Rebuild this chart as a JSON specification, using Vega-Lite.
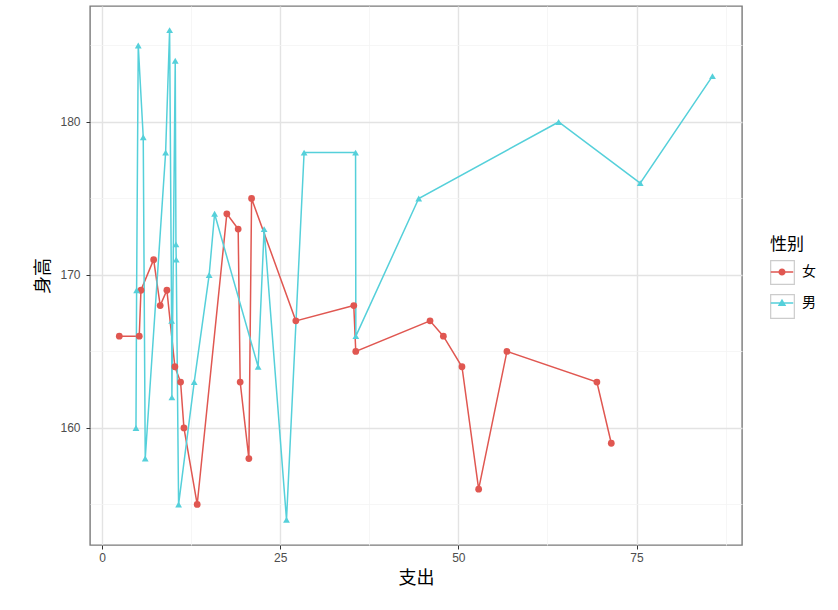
{
  "$schema": "https://vega.github.io/schema/vega-lite/v6.json",
  "width": 652,
  "height": 539,
  "autosize": {"type": "none"},
  "padding": {"left": 90, "top": 6, "right": 96, "bottom": 65},
  "background": "white",
  "data": {
    "values": [
      {"性别": "女", "支出": 2.43, "身高": 166},
      {"性别": "女", "支出": 5.23, "身高": 166},
      {"性别": "女", "支出": 5.47, "身高": 169},
      {"性别": "女", "支出": 7.25, "身高": 171},
      {"性别": "女", "支出": 8.17, "身高": 168},
      {"性别": "女", "支出": 9.11, "身高": 169},
      {"性别": "女", "支出": 10.23, "身高": 164},
      {"性别": "女", "支出": 11.03, "身高": 163},
      {"性别": "女", "支出": 11.5, "身高": 160},
      {"性别": "女", "支出": 13.36, "身高": 155},
      {"性别": "女", "支出": 17.52, "身高": 174},
      {"性别": "女", "支出": 19.11, "身高": 173},
      {"性别": "女", "支出": 19.39, "身高": 163},
      {"性别": "女", "支出": 20.61, "身高": 158},
      {"性别": "女", "支出": 20.99, "身高": 175},
      {"性别": "女", "支出": 27.2, "身高": 167},
      {"性别": "女", "支出": 35.33, "身高": 168},
      {"性别": "女", "支出": 35.61, "身高": 165},
      {"性别": "女", "支出": 46.03, "身高": 167},
      {"性别": "女", "支出": 47.9, "身高": 166},
      {"性别": "女", "支出": 50.51, "身高": 164},
      {"性别": "女", "支出": 52.85, "身高": 156},
      {"性别": "女", "支出": 56.82, "身高": 165},
      {"性别": "女", "支出": 69.44, "身高": 163},
      {"性别": "女", "支出": 71.46, "身高": 159},
      {"性别": "男", "支出": 4.77, "身高": 160},
      {"性别": "男", "支出": 4.86, "身高": 169},
      {"性别": "男", "支出": 5.09, "身高": 185},
      {"性别": "男", "支出": 5.79, "身高": 179},
      {"性别": "男", "支出": 6.07, "身高": 158},
      {"性别": "男", "支出": 8.93, "身高": 178},
      {"性别": "男", "支出": 9.49, "身高": 186},
      {"性别": "男", "支出": 9.77, "身高": 167},
      {"性别": "男", "支出": 9.81, "身高": 162},
      {"性别": "男", "支出": 10.28, "身高": 184},
      {"性别": "男", "支出": 10.38, "身高": 172},
      {"性别": "男", "支出": 10.42, "身高": 171},
      {"性别": "男", "支出": 10.75, "身高": 155},
      {"性别": "男", "支出": 12.94, "身高": 163},
      {"性别": "男", "支出": 15.04, "身高": 170},
      {"性别": "男", "支出": 15.8, "身高": 174},
      {"性别": "男", "支出": 21.91, "身高": 164},
      {"性别": "男", "支出": 22.75, "身高": 173},
      {"性别": "男", "支出": 25.89, "身高": 154},
      {"性别": "男", "支出": 28.36, "身高": 178},
      {"性别": "男", "支出": 35.58, "身高": 178},
      {"性别": "男", "支出": 35.62, "身高": 166},
      {"性别": "男", "支出": 44.44, "身高": 175},
      {"性别": "男", "支出": 64.07, "身高": 180},
      {"性别": "男", "支出": 75.52, "身高": 176},
      {"性别": "男", "支出": 85.66, "身高": 183}
    ]
  },
  "encoding": {
    "x": {
      "field": "支出",
      "type": "quantitative",
      "scale": {"domain": [-1.68, 89.8], "nice": false, "zero": false},
      "axis": {
        "title": "支出",
        "values": [0, 12.5, 25, 37.5, 50, 62.5, 75, 87.5],
        "labelExpr": "datum.value % 25 === 0 ? datum.label : ''",
        "labelPadding": 3,
        "titlePadding": 6,
        "gridColor": {"condition": {"test": "datum.value % 25 !== 0", "value": "#F4F4F4"}, "value": "#E3E3E3"},
        "gridWidth": {"condition": {"test": "datum.value % 25 !== 0", "value": 0.8}, "value": 1.4},
        "tickOpacity": {"condition": {"test": "datum.value % 25 !== 0", "value": 0}, "value": 1}
      }
    },
    "y": {
      "field": "身高",
      "type": "quantitative",
      "scale": {"domain": [152.35, 187.58], "nice": false, "zero": false},
      "axis": {
        "title": "身高",
        "values": [155, 160, 165, 170, 175, 180, 185],
        "labelExpr": "datum.value % 10 === 0 ? datum.label : ''",
        "labelPadding": 6,
        "titlePadding": 7,
        "gridColor": {"condition": {"test": "datum.value % 10 !== 0", "value": "#F4F4F4"}, "value": "#E3E3E3"},
        "gridWidth": {"condition": {"test": "datum.value % 10 !== 0", "value": 0.8}, "value": 1.4},
        "tickOpacity": {"condition": {"test": "datum.value % 10 !== 0", "value": 0}, "value": 1}
      }
    }
  },
  "layer": [
    {
      "mark": {"type": "line", "strokeWidth": 1.5},
      "encoding": {
        "color": {
          "field": "性别",
          "type": "nominal",
          "scale": {"domain": ["女", "男"], "range": ["#E05751", "#55D0DA"]},
          "legend": null
        }
      }
    },
    {
      "mark": {"type": "point", "filled": true, "opacity": 1, "size": 46},
      "encoding": {
        "color": {
          "field": "性别",
          "type": "nominal",
          "scale": {"domain": ["女", "男"], "range": ["#E05751", "#55D0DA"]},
          "legend": null
        },
        "shape": {
          "field": "性别",
          "type": "nominal",
          "scale": {"domain": ["女", "男"], "range": ["circle", "triangle-up"]},
          "legend": null
        }
      }
    },
    {
      "transform": [{"filter": "false"}],
      "mark": {"type": "point", "filled": false, "opacity": 1, "color": "#CCCCCC", "strokeWidth": 1.2},
      "encoding": {
        "shape": {
          "field": "性别",
          "type": "nominal",
          "scale": {"domain": ["女", "男"], "range": ["square", "square"]},
          "legend": {
            "orient": "none",
            "legendX": 680,
            "legendY": 231,
            "zindex": 1,
            "title": "性别",
            "titleOpacity": 0,
            "titleFont": "Noto Sans CJK SC",
            "titleFontSize": 17,
            "titleFontWeight": "normal",
            "titlePadding": 6,
            "labelExpr": "''",
            "labelFont": "Noto Sans CJK SC",
            "labelFontSize": 14,
            "labelOffset": 8,
            "symbolSize": 560,
            "symbolType": "square",
            "symbolFillColor": "transparent",
            "symbolStrokeColor": "#CCCCCC",
            "symbolStrokeWidth": 1.2,
            "rowPadding": 5
          }
        }
      }
    },
    {
      "transform": [{"filter": "false"}],
      "mark": {"type": "point", "filled": true, "opacity": 1, "size": 560},
      "encoding": {
        "shape": {
          "field": "性别",
          "type": "nominal",
          "scale": {
            "domain": ["女", "男"],
            "range": [
              "M-1.05,-1.05M1.05,1.05M-0.95,-0.07L0.95,-0.07L0.95,0.07L-0.95,0.07Z M-0.3,0A0.3,0.3,0,1,1,0.3,0A0.3,0.3,0,1,1,-0.3,0Z",
              "M-1.05,-1.05M1.05,1.05M-0.95,-0.07L0.95,-0.07L0.95,0.07L-0.95,0.07Z M0,-0.36L0.36,0.26L-0.36,0.26Z"
            ]
          },
          "legend": {
            "orient": "none",
            "legendX": 680,
            "legendY": 231,
            "zindex": 2,
            "title": "性别",
            "titleColor": "#000000",
            "titleFont": "Noto Sans CJK SC",
            "titleFontSize": 17,
            "titleFontWeight": "normal",
            "titlePadding": 6,
            "labelColor": "#000000",
            "labelFont": "Noto Sans CJK SC",
            "labelFontSize": 14,
            "labelOffset": 8,
            "symbolSize": 560,
            "symbolStrokeWidth": 0,
            "rowPadding": 5
          }
        },
        "color": {
          "field": "性别",
          "type": "nominal",
          "scale": {"domain": ["女", "男"], "range": ["#E05751", "#55D0DA"]},
          "legend": {
            "orient": "none",
            "legendX": 680,
            "legendY": 231,
            "zindex": 2,
            "title": "性别",
            "titleColor": "#000000",
            "titleFont": "Noto Sans CJK SC",
            "titleFontSize": 17,
            "titleFontWeight": "normal",
            "titlePadding": 6,
            "labelColor": "#000000",
            "labelFont": "Noto Sans CJK SC",
            "labelFontSize": 14,
            "labelOffset": 8,
            "symbolSize": 560,
            "symbolStrokeWidth": 0,
            "rowPadding": 5
          }
        }
      }
    }
  ],
  "resolve": {"scale": {"shape": "independent", "color": "independent"}},
  "config": {
    "view": {"stroke": "#7A7A7A", "strokeWidth": 1.4},
    "axis": {
      "domain": false,
      "grid": true,
      "tickColor": "#333333",
      "tickSize": 4,
      "tickWidth": 1,
      "labelFont": "Liberation Sans",
      "labelFontSize": 12,
      "labelColor": "#4D4D4D",
      "titleFont": "Noto Sans CJK SC",
      "titleFontSize": 18,
      "titleFontWeight": "normal",
      "titleColor": "#000000"
    }
  }
}
